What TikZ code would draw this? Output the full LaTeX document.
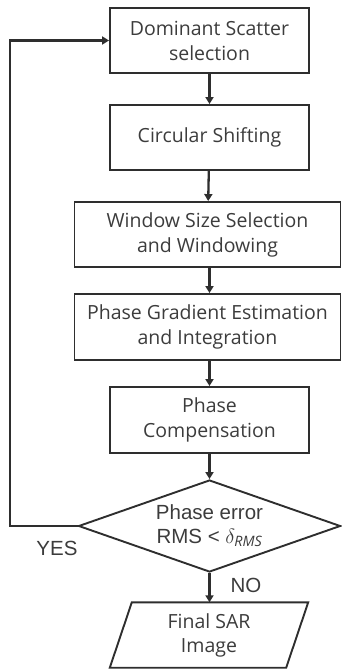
\documentclass[tikz,border=0pt]{standalone}
\usepackage{fontspec}
\setmainfont{Open Sans}
\newfontfamily\arialfont{Liberation Sans}
\usetikzlibrary{arrows.meta,shapes.geometric,calc}
\definecolor{lc}{HTML}{2E2E2E}
\definecolor{tc}{HTML}{3C3C3C}
\begin{document}
\begin{tikzpicture}[x=1pt,y=-1pt,
  box/.style={draw=lc,line width=1.9pt,rectangle,minimum height=65pt,align=center,text=tc,
    font=\fontsize{19.5}{25}\selectfont,inner sep=0pt},
  arr/.style={draw=lc,line width=2.3pt,-{Triangle[width=8pt,length=7pt]}},
  lbl/.style={text=tc,font=\arialfont\fontsize{20.5}{24}\selectfont,inner sep=0pt}]
\useasboundingbox (0,0) rectangle (342,672);
\node[box,minimum width=199pt] (b1) at (209.5,40.5) {Dominant Scatter\\selection};
\node[box,minimum width=199pt] (b2) at (209.5,137.5) {Circular Shifting};
\node[box,minimum width=266pt] (b3) at (207.5,234.5) {Window Size Selection\\and Windowing};
\node[box,minimum width=266pt,minimum height=66pt] (b4) at (207.5,327) {Phase Gradient Estimation\\and Integration};
\node[box,minimum width=199pt,minimum height=66pt] (b5) at (209.5,420) {Phase\\Compensation};
\node[diamond,draw=lc,line width=1.9pt,minimum width=262pt,minimum height=92pt,aspect=2.85,inner sep=0pt,
  align=center,text=tc,font=\arialfont\fontsize{20.5}{24}\selectfont] (dec) at (209.5,526)
  {Phase error\\RMS < $\delta_{\mathit{RMS}}$};
\node[minimum width=198pt,minimum height=65pt,inner sep=0pt,align=center,text=tc,
  font=\fontsize{19.5}{24}\selectfont] (fin) at (209,635) {Final SAR\\Image};
\draw[lc,line width=1.9pt] ($(fin.north west)+(22,0)$) -- (fin.north east) -- ($(fin.south east)+(-22,0)$) -- (fin.south west) -- cycle;
\coordinate (lx) at (10,0);
\draw[arr] (b1) -- (b2);
\draw[arr] (b2) -- (b3);
\draw[arr] (b3.south -| b2.south) -- (b4.north -| b2.south);
\draw[arr] (b4.south -| b2.south) -- (b5);
\draw[arr] (b5) -- (dec);
\draw[arr] (dec) -- (fin.north -| dec.south);
\draw[arr] (dec.west) -- (dec.west -| lx) |- (b1.west);
\node[lbl] (yes) at (57,548) {YES};
\node[lbl] (no) at (246,585) {NO};
\end{tikzpicture}
\end{document}
